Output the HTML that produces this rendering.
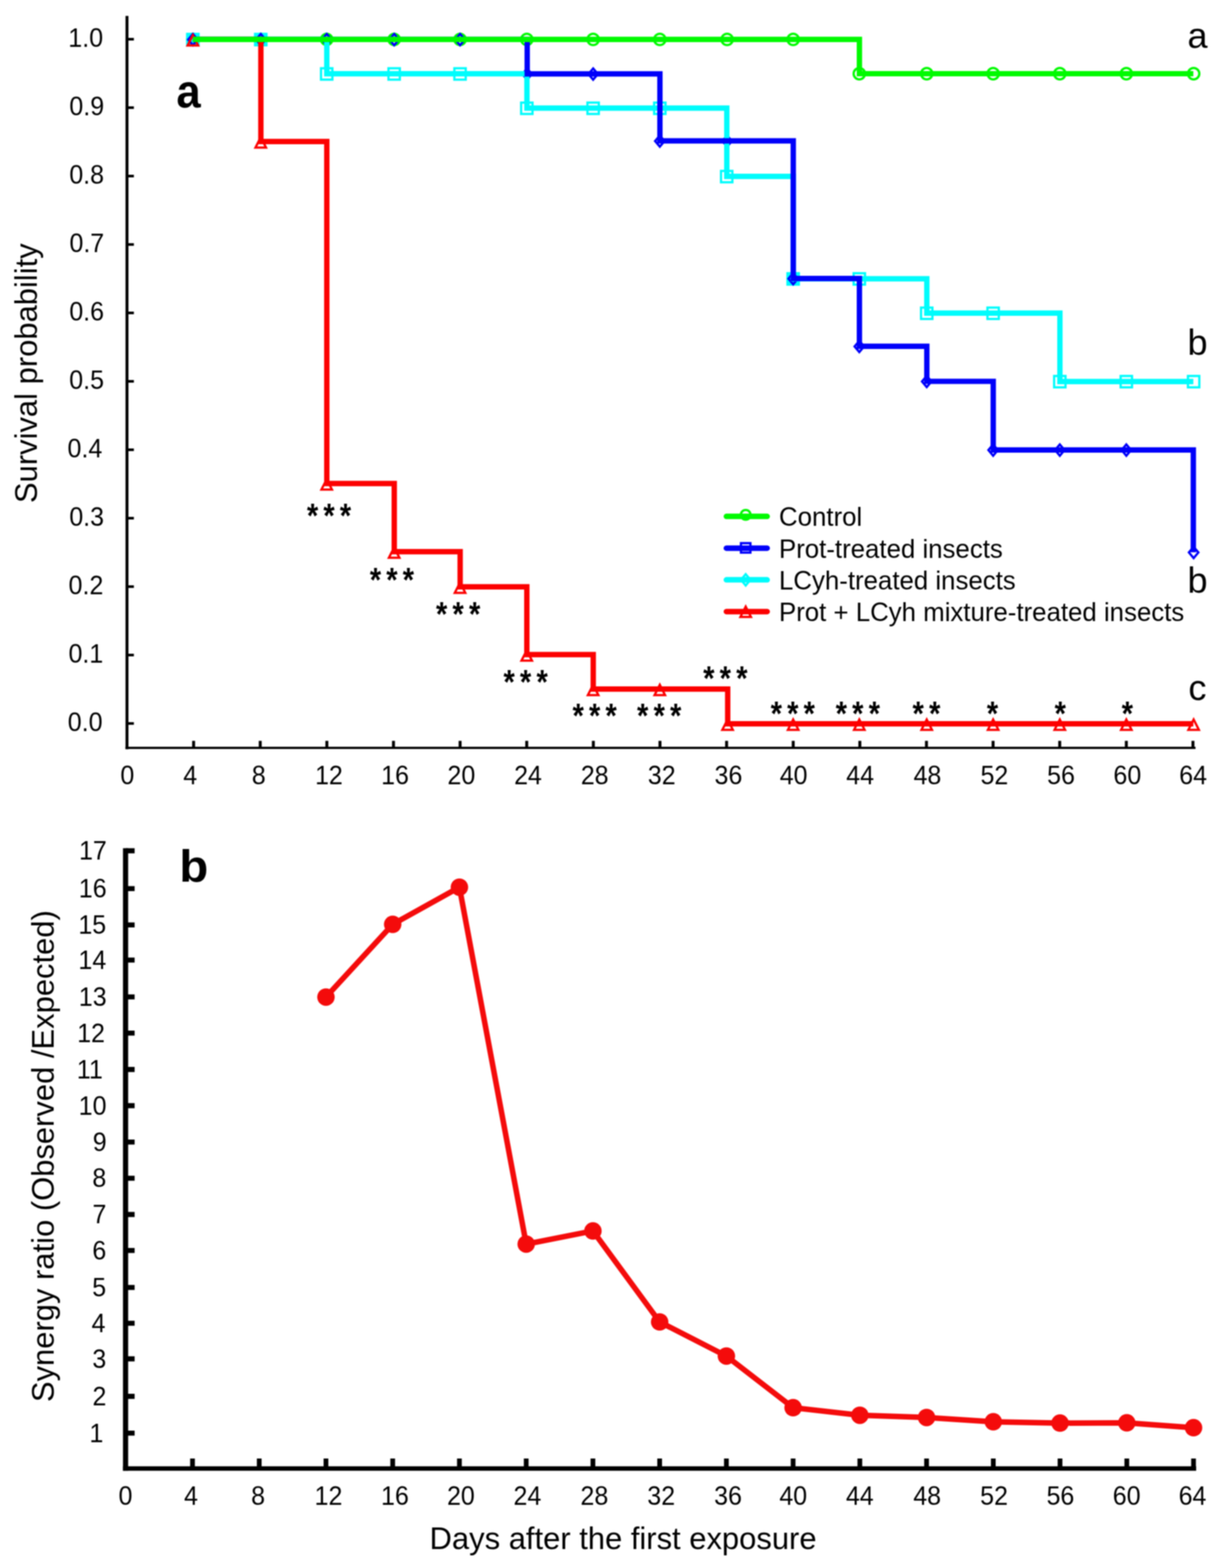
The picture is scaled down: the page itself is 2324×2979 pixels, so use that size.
<!DOCTYPE html>
<html lang="en"><head><meta charset="utf-8"><title>Survival probability and synergy ratio</title>
<style>html,body{margin:0;padding:0;background:#fff}body{width:2324px;height:2979px;overflow:hidden}svg{display:block;filter:blur(1px)}text{font-family:"Liberation Sans",sans-serif;fill:#000}.t{font-size:47.5px}.k{font-size:49.05px}.r{text-anchor:end}.m{text-anchor:middle}.l{font-size:58.8px;text-anchor:middle}.g{font-size:68.6px;text-anchor:middle}.p{font-size:88.2px;font-weight:bold;text-anchor:middle}.s{font-size:60px;font-weight:bold;letter-spacing:10.7px}.mk{fill:none;stroke-width:4.3}</style>
</head><body>
<svg width="2324" height="2979" viewBox="0 0 2324 2979">
<rect width="2324" height="2979" fill="#fff"/>
<g id="axesA" stroke="#000" stroke-width="5.6" fill="none">
<path d="M241.3 30.3V1423.5"/>
<path d="M238.5 1420.9H2271.8" stroke-width="4.2"/>
<path d="M241.3 1374.6H254.4M241.3 1244.6H254.4M241.3 1114.6H254.4M241.3 984.6H254.4M241.3 854.6H254.4M241.3 724.6H254.4M241.3 594.6H254.4M241.3 464.6H254.4M241.3 334.6H254.4M241.3 204.6H254.4M241.3 74.6H254.4" stroke-width="5"/>
<path d="M367.9 1420.9V1407.6M494.5 1420.9V1407.6M621.1 1420.9V1407.6M747.7 1420.9V1407.6M874.3 1420.9V1407.6M1000.9 1420.9V1407.6M1127.5 1420.9V1407.6M1254.1 1420.9V1407.6M1380.7 1420.9V1407.6M1507.3 1420.9V1407.6M1633.9 1420.9V1407.6M1760.5 1420.9V1407.6M1887.1 1420.9V1407.6M2013.7 1420.9V1407.6M2140.3 1420.9V1407.6M2266.9 1420.9V1407.6"/>
</g>
<g class="t" transform="scale(1 1.045)">
<text x="128.8" y="1329.38">0.0</text>
<text x="130.2" y="1204.98">0.1</text>
<text x="130.3" y="1080.57">0.2</text>
<text x="131.7" y="956.17">0.3</text>
<text x="128.3" y="831.77">0.4</text>
<text x="131.6" y="707.37">0.5</text>
<text x="131.7" y="582.97">0.6</text>
<text x="132" y="458.56">0.7</text>
<text x="131.7" y="334.16">0.8</text>
<text x="131.8" y="209.76">0.9</text>
<text x="129.8" y="85.36">1.0</text>
</g>
<g class="t" transform="scale(1 1.045)">
<text x="228.7" y="1425.45">0</text>
<text x="348.2" y="1425.45">4</text>
<text x="478.5" y="1425.45">8</text>
<text x="598.7" y="1425.45">12</text>
<text x="724.3" y="1425.45">16</text>
<text x="850.3" y="1425.45">20</text>
<text x="976.9" y="1425.45">24</text>
<text x="1103.7" y="1425.45">28</text>
<text x="1231" y="1425.45">32</text>
<text x="1357.8" y="1425.45">36</text>
<text x="1481.7" y="1425.45">40</text>
<text x="1608.1" y="1425.45">44</text>
<text x="1735.9" y="1425.45">48</text>
<text x="1863.2" y="1425.45">52</text>
<text x="1989.8" y="1425.45">56</text>
<text x="2115.8" y="1425.45">60</text>
<text x="2240.8" y="1425.45">64</text>
</g>
<text class="l" transform="translate(70 709) rotate(-90)">Survival probability</text>
<g id="markersA" class="mk">
<g stroke="#00fa00">
<circle cx="366.5" cy="74.9" r="10.8"/>
<circle cx="495.5" cy="74.9" r="10.8"/>
<circle cx="620.8" cy="74.9" r="10.8"/>
<circle cx="749" cy="74.9" r="10.8"/>
<circle cx="874.2" cy="74.9" r="10.8"/>
<circle cx="1001.1" cy="74.9" r="10.8"/>
<circle cx="1127.1" cy="74.9" r="10.8"/>
<circle cx="1253.8" cy="74.9" r="10.8"/>
<circle cx="1381.7" cy="74.9" r="10.8"/>
<circle cx="1507.2" cy="74.9" r="10.8"/>
<circle cx="1632.9" cy="140" r="10.8"/>
<circle cx="1761" cy="140" r="10.8"/>
<circle cx="1887.2" cy="140" r="10.8"/>
<circle cx="2013.9" cy="140" r="10.8"/>
<circle cx="2140.3" cy="140" r="10.8"/>
<circle cx="2268.2" cy="140" r="10.8"/>
</g>
<g stroke="#00fcfc">
<rect x="355.7" y="64.4" width="21.6" height="21.6" fill="#00fcfc"/>
<rect x="484.7" y="64.4" width="21.6" height="21.6" fill="#00fcfc"/>
<rect x="610" y="129.7" width="21.6" height="21.6"/>
<rect x="738.2" y="129.7" width="21.6" height="21.6"/>
<rect x="863.4" y="129.7" width="21.6" height="21.6"/>
<rect x="990.3" y="194.9" width="21.6" height="21.6"/>
<rect x="1116.3" y="194.9" width="21.6" height="21.6"/>
<rect x="1243" y="194.9" width="21.6" height="21.6"/>
<rect x="1370.1" y="324.7" width="21.6" height="21.6"/>
<rect x="1496.4" y="519.1" width="21.6" height="21.6" fill="#00fcfc"/>
<rect x="1622.1" y="519.1" width="21.6" height="21.6"/>
<rect x="1750.2" y="584.4" width="21.6" height="21.6"/>
<rect x="1876.4" y="584.4" width="21.6" height="21.6"/>
<rect x="2003.1" y="714.3" width="21.6" height="21.6"/>
<rect x="2129.5" y="714.3" width="21.6" height="21.6"/>
<rect x="2257.4" y="714.3" width="21.6" height="21.6"/>
</g>
<g stroke="#0000fa">
<path d="M366.5 64.5l9 10.7l-9 10.7l-9 -10.7z"/>
<path d="M495.5 64.5l9 10.7l-9 10.7l-9 -10.7z"/>
<path d="M620.8 64.5l9 10.7l-9 10.7l-9 -10.7z"/>
<path d="M749 64.5l9 10.7l-9 10.7l-9 -10.7z"/>
<path d="M874.2 64.5l9 10.7l-9 10.7l-9 -10.7z"/>
<path d="M1001.6 130l9 10.7l-9 10.7l-9 -10.7z"/>
<path d="M1127.1 130l9 10.7l-9 10.7l-9 -10.7z"/>
<path d="M1253.8 257.3l9 10.7l-9 10.7l-9 -10.7z"/>
<path d="M1381.7 257.3l9 10.7l-9 10.7l-9 -10.7z"/>
<path d="M1507.2 518.7l9 10.7l-9 10.7l-9 -10.7z"/>
<path d="M1632.9 647.5l9 10.7l-9 10.7l-9 -10.7z"/>
<path d="M1761 714.1l9 10.7l-9 10.7l-9 -10.7z"/>
<path d="M1887.2 844.4l9 10.7l-9 10.7l-9 -10.7z"/>
<path d="M2013.9 844.4l9 10.7l-9 10.7l-9 -10.7z"/>
<path d="M2140.3 844.4l9 10.7l-9 10.7l-9 -10.7z"/>
<path d="M2268.2 1038.9l9 10.7l-9 10.7l-9 -10.7z"/>
</g>
<g stroke="#fc0000">
<path d="M366.5 66.7l10 19.7h-20z"/>
<path d="M495.5 260.6l10 19.7h-20z"/>
<path d="M620.8 910.4l10 19.7h-20z"/>
<path d="M749 1040l10 19.7h-20z"/>
<path d="M874.2 1106.7l10 19.7h-20z"/>
<path d="M1000.9 1235.5l10 19.7h-20z"/>
<path d="M1127.1 1301l10 19.7h-20z"/>
<path d="M1253.8 1301l10 19.7h-20z"/>
<path d="M1382.6 1366.9l10 19.7h-20z"/>
<path d="M1507.2 1366.9l10 19.7h-20z"/>
<path d="M1632.9 1366.9l10 19.7h-20z"/>
<path d="M1761 1366.9l10 19.7h-20z"/>
<path d="M1887.2 1366.9l10 19.7h-20z"/>
<path d="M2013.9 1366.9l10 19.7h-20z"/>
<path d="M2140.3 1366.9l10 19.7h-20z"/>
<path d="M2268.2 1366.9l10 19.7h-20z"/>
</g>
</g>
<g id="linesA" fill="none" stroke-width="10.2" stroke-linejoin="miter">
<path d="M366.7 74.9H495.7H621V140.2H749.2H874.4H1001.3V205.4H1127.3H1254H1381.1V335.2H1507.4V529.6H1633.1H1761.2V594.9H1887.4H2014.1V724.8H2140.5H2267.6" stroke="#00fcfc"/>
<path d="M366.7 74.9H495.7H621H749.2H874.4H1001.8V140.4H1127.3H1254V267.7H1381.9H1507.4V529.1H1633.1V657.9H1761.2V724.5H1887.4V854.8H2014.1H2140.5H2267.6V1049.3" stroke="#0000fa"/>
<path d="M366.7 74.9H495.7V268.8H621V918.6H749.2V1048.2H874.4V1114.9H1001.1V1243.7H1127.3V1309.2H1254H1382.8V1375.1H1507.4H1633.1H1761.2H1887.4H2014.1H2140.5H2267.6" stroke="#fc0000"/>
<path d="M366.7 74.9H495.7H621H749.2H874.4H1001.3H1127.3H1254H1381.9H1507.4H1633.1V140H1761.2H1887.4H2014.1H2140.5H2267.6" stroke="#00fa00"/>
</g>
<text class="p" transform="translate(358.4 204.3) scale(.94 1)">a</text>
<g class="g">
<text x="2275.5" y="90.8">a</text>
<text x="2275.5" y="674">b</text>
<text x="2275.5" y="1125.5">b</text>
<text x="2275.5" y="1329.5">c</text>
</g>
<g class="s">
<text transform="translate(583.2 1002.2) scale(0.92 1.08)">***</text>
<text transform="translate(702.7 1124) scale(0.92 1.08)">***</text>
<text transform="translate(828.5 1189.2) scale(0.92 1.08)">***</text>
<text transform="translate(956.8 1317.6) scale(0.92 1.08)">***</text>
<text transform="translate(1087.9 1382.1) scale(0.92 1.08)">***</text>
<text transform="translate(1210.6 1381.8) scale(0.92 1.08)">***</text>
<text transform="translate(1336.3 1311.3) scale(0.92 1.08)">***</text>
<text transform="translate(1464.4 1378.4) scale(0.92 1.08)">***</text>
<text transform="translate(1588 1378.4) scale(0.92 1.08)">***</text>
<text transform="translate(1734.1 1378.4) scale(0.92 1.08)">**</text>
<text transform="translate(1875.3 1378.2) scale(0.92 1.08)">*</text>
<text transform="translate(2003.9 1378.2) scale(0.92 1.08)">*</text>
<text transform="translate(2131.6 1378.2) scale(0.92 1.08)">*</text>
</g>
<g id="legend">
<g class="mk" stroke="#00fa00"><circle cx="1417" cy="978.1" r="9.2"/></g>
<path d="M1380.3 981.1H1457.8" stroke="#00fa00" stroke-width="10.5" stroke-linecap="round"/>
<text class="k" x="1480.3" y="999.3">Control</text>
<g class="mk" stroke="#0000fa"><rect x="1408" y="1031.9" width="18" height="18"/></g>
<path d="M1380.3 1041.4H1457.8" stroke="#0000fa" stroke-width="10.5" stroke-linecap="round"/>
<text class="k" x="1480.3" y="1059.6">Prot-treated insects</text>
<g class="mk" stroke="#00fcfc"><path d="M1417 1090.9l9 10.7l-9 10.7l-9 -10.7z"/></g>
<path d="M1380.3 1101.6H1457.8" stroke="#00fcfc" stroke-width="10.5" stroke-linecap="round"/>
<text class="k" x="1480.3" y="1119.8">LCyh-treated insects</text>
<g class="mk" stroke="#fc0000"><path d="M1417 1152.4l10 19.7h-20z"/></g>
<path d="M1380.3 1161.9H1457.8" stroke="#fc0000" stroke-width="10.5" stroke-linecap="round"/>
<text class="k" x="1480.3" y="1180.1">Prot + LCyh mixture-treated insects</text>
</g>
<g id="axesB" stroke="#000" stroke-width="10" fill="none">
<path d="M238.6 1611.6V2794.3" stroke-width="9.8"/>
<path d="M233.7 2790H2273" stroke-width="8.6"/>
<path d="M239 2722.7H255.8M239 2652.9H255.8M239 2581.6H255.8M239 2514H255.8M239 2446H255.8M239 2375.8H255.8M239 2307.4H255.8M239 2238.5H255.8M239 2169.8H255.8M239 2100.6H255.8M239 2031.9H255.8M239 1962.8H255.8M239 1894H255.8M239 1824H255.8M239 1757.2H255.8M239 1688.2H255.8M239 1616.4H255.8" stroke-width="9.6"/>
<path d="M365.8 2790V2771M492.6 2790V2771M619.4 2790V2771M746.2 2790V2771M873 2790V2771M999.9 2790V2771M1126.7 2790V2771M1253.5 2790V2771M1380.3 2790V2771M1507.1 2790V2771M1633.9 2790V2771M1760.7 2790V2771M1887.5 2790V2771M2014.3 2790V2771M2141.2 2790V2771M2268 2790V2771" stroke-width="9"/>
</g>
<g class="t" transform="scale(1 1.045)">
<text x="169.9" y="2621.72">1</text>
<text x="175.8" y="2554.93">2</text>
<text x="175.5" y="2486.7">3</text>
<text x="174.1" y="2422.01">4</text>
<text x="175.3" y="2356.94">5</text>
<text x="175.4" y="2289.76">6</text>
<text x="175.8" y="2224.31">7</text>
<text x="175.5" y="2158.37">8</text>
<text x="176.3" y="2092.63">9</text>
<text x="149.6" y="2026.41">10</text>
<text x="146" y="1960.67">11</text>
<text x="146.7" y="1894.55">12</text>
<text x="149.8" y="1828.71">13</text>
<text x="149.1" y="1761.72">14</text>
<text x="148.9" y="1697.8">15</text>
<text x="149.8" y="1631.77">16</text>
<text x="150.2" y="1563.06">17</text>
</g>
<g class="t" transform="scale(1 1.045)">
<text x="225.2" y="2735.6">0</text>
<text x="349.8" y="2735.6">4</text>
<text x="477.3" y="2735.6">8</text>
<text x="597.8" y="2735.6">12</text>
<text x="724" y="2735.6">16</text>
<text x="849.4" y="2735.6">20</text>
<text x="975.8" y="2735.6">24</text>
<text x="1103" y="2735.6">28</text>
<text x="1230" y="2735.6">32</text>
<text x="1357.1" y="2735.6">36</text>
<text x="1480.9" y="2735.6">40</text>
<text x="1607.4" y="2735.6">44</text>
<text x="1735.4" y="2735.6">48</text>
<text x="1862.5" y="2735.6">52</text>
<text x="1988.7" y="2735.6">56</text>
<text x="2114.6" y="2735.6">60</text>
<text x="2239.7" y="2735.6">64</text>
</g>
<text class="l" transform="translate(102 2196.5) rotate(-90)">Synergy ratio (Observed /Expected)</text>
<text class="l" x="1184" y="2943">Days after the first exposure</text>
<text class="p" transform="translate(368.2 1675.4) scale(1.02 .975)">b</text>
<polyline points="619.4,1894.3 746.2,1756.2 873,1685.6 999.9,2363.6 1126.7,2338.7 1253.5,2511.5 1380.3,2576.3 1507.1,2674.4 1633.9,2688.8 1760.7,2693.1 1887.5,2701.2 2014.3,2703.7 2141.2,2703.2 2268,2712.4" fill="none" stroke="#f40b0b" stroke-width="10.5" stroke-linejoin="round"/>
<g fill="#f40b0b">
<circle cx="619.4" cy="1894.3" r="16.6"/>
<circle cx="746.2" cy="1756.2" r="16.6"/>
<circle cx="873" cy="1685.6" r="16.6"/>
<circle cx="999.9" cy="2363.6" r="16.6"/>
<circle cx="1126.7" cy="2338.7" r="16.6"/>
<circle cx="1253.5" cy="2511.5" r="16.6"/>
<circle cx="1380.3" cy="2576.3" r="16.6"/>
<circle cx="1507.1" cy="2674.4" r="16.6"/>
<circle cx="1633.9" cy="2688.8" r="16.6"/>
<circle cx="1760.7" cy="2693.1" r="16.6"/>
<circle cx="1887.5" cy="2701.2" r="16.6"/>
<circle cx="2014.3" cy="2703.7" r="16.6"/>
<circle cx="2141.2" cy="2703.2" r="16.6"/>
<circle cx="2268" cy="2712.4" r="16.6"/>
</g>
</svg>
</body></html>
